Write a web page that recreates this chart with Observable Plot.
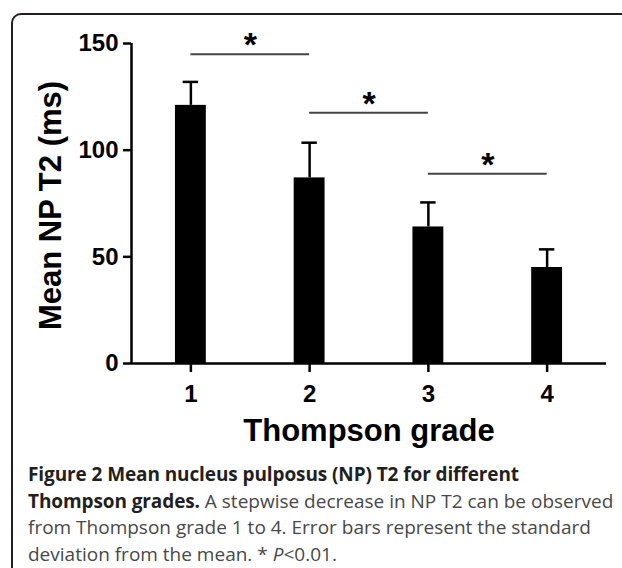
<!DOCTYPE html>
<html>
<head>
<meta charset="utf-8">
<script src="https://cdn.jsdelivr.net/npm/d3@7"></script>
<script src="https://cdn.jsdelivr.net/npm/@observablehq/plot@0.6"></script>
<style>
  html, body { margin: 0; padding: 0; background: #fff; width: 622px; height: 568px; overflow: hidden; }
  #frame { position: absolute; left: 11px; top: 13px; width: 700px; height: 700px; border: 2px solid #231f20; border-radius: 10px; box-sizing: border-box; }
  #chart { position: absolute; left: 0; top: 0; }
  #caption { position: absolute; left: 28px; top: 461px; width: 600px; font-family: "Open Sans", sans-serif; font-size: 19px; line-height: 26.5px; color: #484848; white-space: nowrap; }
  #caption b { color: #231f20; font-weight: 700; letter-spacing: -0.1px; }
</style>
</head>
<body>
<div id="frame"></div>
<div id="chart"></div>
<div id="caption"><b>Figure 2 Mean nucleus pulposus (NP) T2 for different<br>Thompson grades.</b> A stepwise decrease in NP T2 can be observed<br>from Thompson grade 1 to 4. Error bars represent the standard<br>deviation from the mean. * <i>P</i>&lt;0.01.</div>
<script>
const grades = [1, 2, 3, 4];
const means = [121, 87, 64, 45];
const sds = [11, 16.5, 11.5, 8.5];
const yTicks = [0, 50, 100, 150];
const sigFrom = [1, 2, 3];
const sigTo = [2, 3, 4];
const sigLevel = [145, 117.5, 89];
const sigLabel = ["*", "*", "*"];
const xTitle = "Thompson grade";
const yTitle = "Mean NP T2 (ms)";

const bars = grades.map((g, i) => ({grade: g, mean: means[i], sd: sds[i]}));
const sig = sigFrom.map((a, i) => ({a, b: sigTo[i], y: sigLevel[i], label: sigLabel[i]}));
const halfBar = 0.13;
const halfCap = 0.065;

const font = "'Liberation Sans', Arial, Helvetica, sans-serif";

const chart = Plot.plot({
  width: 622,
  height: 458,
  marginLeft: 131,
  marginRight: 16,
  marginTop: 43,
  marginBottom: 95,
  style: {fontFamily: font, background: "transparent", color: "#000", overflow: "visible"},
  x: {type: "linear", domain: [0.5, 4.5]},
  y: {domain: [0, 150]},
  marks: [
    Plot.ruleX(bars, {x: "grade", y1: "mean", y2: d => d.mean + d.sd, stroke: "#000", strokeWidth: 2.5}),
    Plot.ruleY(bars, {x1: d => d.grade - halfCap, x2: d => d.grade + halfCap, y: d => d.mean + d.sd, stroke: "#000", strokeWidth: 2.5}),
    Plot.rectY(bars, {x1: d => d.grade - halfBar, x2: d => d.grade + halfBar, y1: 0, y2: "mean", fill: "#000"}),
    Plot.ruleY(sig, {x1: "a", x2: "b", y: "y", stroke: "#444", strokeWidth: 2}),
    Plot.text(sig, {x: d => (d.a + d.b) / 2, y: "y", text: "label", fontSize: 34, fontWeight: "bold", lineAnchor: "bottom", dy: 2, fill: "#000"}),
    Plot.ruleX([0.5], {stroke: "#000", strokeWidth: 2.5}),
    Plot.ruleY([0], {stroke: "#000", strokeWidth: 2.5}),
    Plot.axisY({ticks: yTicks, tickSize: 8, tickPadding: 5, fontSize: 24, fontWeight: "bold", strokeWidth: 2.5, label: null, tickFormat: d => d}),
    Plot.axisX({ticks: grades, tickSize: 9, tickPadding: 12, fontSize: 24, fontWeight: "bold", strokeWidth: 2.5, label: null, tickFormat: d => d}),
    Plot.text([yTitle], {frameAnchor: "left", text: d => d, rotate: -90, dx: -80, dy: 2, fontSize: 31, fontWeight: "bold", lineAnchor: "middle", textAnchor: "middle", fill: "#000"}),
    Plot.text([xTitle], {frameAnchor: "bottom", text: d => d, dy: 55, fontSize: 31, fontWeight: "bold", lineAnchor: "top", textAnchor: "middle", fill: "#000"})
  ]
});
document.getElementById("chart").appendChild(chart);
</script>
</body>
</html>
